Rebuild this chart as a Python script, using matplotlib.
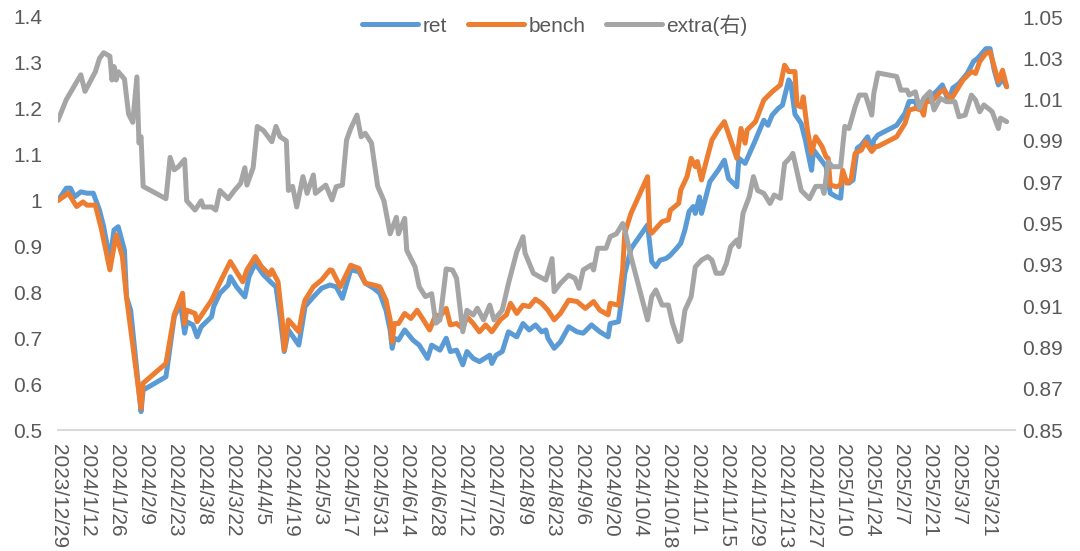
import numpy as np
import pandas as pd
import matplotlib
matplotlib.use("Agg")
import matplotlib.pyplot as plt

plt.rcParams['font.family'] = ['Liberation Sans', 'Noto Sans CJK SC', 'DejaVu Sans']

START = "2023-12-29"
END_DAY = 461  # axis end, days after START

# ---- data: day offsets (calendar days after 2023-12-29) and values ----
ret_day = [0, 4, 6, 8, 11, 14, 17, 20, 22, 25, 27, 29, 32, 33, 35, 40, 41, 52, 56, 59, 61, 62, 65, 67, 69,
           74, 75, 78, 82, 83, 86, 90, 92, 95, 99, 103, 105, 107, 109, 111, 116, 118, 119, 123, 127, 131,
           134, 137, 141, 145, 148, 152, 155, 158, 160, 161, 162, 164, 167, 171, 174, 178, 180, 184, 187,
           189, 192, 195, 197, 200, 203, 208, 209, 211, 214, 217, 221, 224, 227, 230, 233, 235, 236, 239,
           242, 246, 250, 253, 257, 261, 265, 266, 270, 272, 273, 276, 284, 286, 288, 290, 293, 295, 298,
           300, 302, 304, 306, 307, 309, 310, 314, 318, 321, 323, 327, 328, 331, 336, 338, 340, 342, 344,
           347, 349, 352, 353, 355, 358, 360, 363, 364, 367, 370, 372, 375, 377, 378, 381, 383, 385, 387,
           390, 392, 393, 395, 404, 408, 410, 413, 414, 417, 420, 423, 426, 429, 431, 434, 438, 441, 443,
           447, 449, 451, 453, 455, 457]
ret_val = [1.000, 1.027, 1.027, 1.008, 1.019, 1.016, 1.016, 0.979, 0.943, 0.870, 0.936, 0.943, 0.892, 0.790,
           0.761, 0.540, 0.587, 0.616, 0.747, 0.776, 0.711, 0.736, 0.729, 0.703, 0.725, 0.747, 0.769, 0.798,
           0.816, 0.834, 0.812, 0.790, 0.834, 0.863, 0.838, 0.820, 0.812, 0.747, 0.671, 0.718, 0.685, 0.740,
           0.769, 0.790, 0.809, 0.816, 0.812, 0.787, 0.849, 0.845, 0.820, 0.809, 0.798, 0.761, 0.718, 0.678,
           0.700, 0.696, 0.718, 0.696, 0.685, 0.656, 0.685, 0.674, 0.700, 0.671, 0.674, 0.642, 0.671, 0.656,
           0.649, 0.663, 0.645, 0.663, 0.671, 0.714, 0.703, 0.732, 0.718, 0.729, 0.714, 0.718, 0.700, 0.678,
           0.692, 0.725, 0.714, 0.711, 0.729, 0.714, 0.703, 0.732, 0.736, 0.800, 0.840, 0.895, 0.947, 0.867,
           0.856, 0.870, 0.874, 0.881, 0.896, 0.907, 0.936, 0.976, 0.987, 0.972, 1.008, 0.972, 1.041, 1.066,
           1.088, 1.048, 1.030, 1.092, 1.081, 1.132, 1.154, 1.175, 1.164, 1.186, 1.201, 1.208, 1.263, 1.255,
           1.188, 1.168, 1.132, 1.066, 1.110, 1.092, 1.074, 1.016, 1.008, 1.005, 1.052, 1.038, 1.045, 1.114,
           1.121, 1.139, 1.110, 1.132, 1.143, 1.164, 1.190, 1.216, 1.216, 1.201, 1.219, 1.226, 1.237, 1.252,
           1.216, 1.245, 1.255, 1.277, 1.303, 1.310, 1.331, 1.331, 1.284, 1.252, 1.266, 1.248]

bench_day = [0, 5, 9, 12, 14, 18, 21, 25, 28, 31, 33, 40, 41, 52, 56, 60, 61, 62, 66, 67, 74, 77, 81, 83, 86,
             89, 91, 95, 98, 102, 103, 106, 108, 109, 111, 116, 118, 119, 123, 127, 131, 132, 136, 141, 145,
             148, 152, 155, 158, 160, 161, 162, 164, 167, 170, 173, 176, 179, 182, 184, 187, 189, 192, 195,
             197, 200, 203, 206, 209, 213, 216, 218, 221, 224, 227, 230, 233, 236, 239, 242, 246, 250, 254,
             258, 261, 265, 266, 270, 272, 273, 276, 284, 285, 286, 291, 294, 295, 299, 300, 303, 305, 307,
             308, 310, 312, 315, 318, 321, 324, 327, 329, 331, 332, 336, 340, 344, 348, 350, 352, 355, 356,
             358, 359, 361, 363, 365, 368, 370, 371, 372, 375, 377, 378, 380, 382, 384, 387, 389, 392, 394,
             395, 404, 408, 410, 413, 416, 417, 418, 421, 425, 427, 430, 433, 436, 440, 442, 444, 447, 449,
             453, 455, 457]
bench_val = [1.000, 1.016, 0.987, 0.997, 0.990, 0.990, 0.936, 0.849, 0.925, 0.878, 0.790, 0.547, 0.602, 0.645,
             0.751, 0.798, 0.732, 0.761, 0.754, 0.736, 0.783, 0.812, 0.849, 0.867, 0.845, 0.823, 0.849, 0.878,
             0.856, 0.838, 0.849, 0.823, 0.740, 0.674, 0.740, 0.714, 0.765, 0.783, 0.812, 0.827, 0.849, 0.848,
             0.812, 0.859, 0.852, 0.820, 0.816, 0.812, 0.783, 0.740, 0.692, 0.732, 0.732, 0.754, 0.743, 0.761,
             0.740, 0.718, 0.751, 0.747, 0.765, 0.729, 0.732, 0.721, 0.747, 0.732, 0.714, 0.729, 0.714, 0.740,
             0.751, 0.776, 0.754, 0.772, 0.769, 0.785, 0.776, 0.761, 0.740, 0.754, 0.783, 0.780, 0.765, 0.780,
             0.761, 0.751, 0.776, 0.772, 0.849, 0.929, 0.972, 1.052, 0.936, 0.929, 0.954, 0.958, 0.979, 0.994,
             1.023, 1.052, 1.092, 1.074, 1.085, 1.045, 1.081, 1.132, 1.154, 1.172, 1.132, 1.092, 1.157, 1.125,
             1.154, 1.172, 1.219, 1.237, 1.252, 1.295, 1.281, 1.281, 1.208, 1.204, 1.226, 1.154, 1.103, 1.139,
             1.118, 1.095, 1.092, 1.034, 1.030, 1.034, 1.066, 1.038, 1.045, 1.103, 1.110, 1.128, 1.107, 1.118,
             1.118, 1.139, 1.168, 1.197, 1.201, 1.197, 1.186, 1.216, 1.216, 1.237, 1.241, 1.219, 1.241, 1.263,
             1.281, 1.277, 1.303, 1.321, 1.324, 1.259, 1.284, 1.248]

extra_day = [0, 4, 11, 13, 18, 20, 22, 25, 26, 27, 28, 29, 32, 34, 36, 38, 39, 40, 41, 52, 54, 56, 58, 61, 62,
             66, 69, 70, 74, 76, 78, 82, 85, 88, 90, 91, 94, 96, 99, 103, 105, 107, 110, 111, 113, 115, 118,
             120, 123, 124, 129, 132, 134, 137, 139, 141, 144, 146, 148, 151, 152, 154, 157, 160, 163, 164,
             167, 168, 172, 174, 177, 180, 182, 184, 187, 190, 192, 195, 197, 200, 202, 205, 208, 210, 214,
             217, 221, 224, 225, 229, 232, 235, 238, 239, 242, 246, 249, 251, 253, 257, 258, 260, 264, 266,
             269, 272, 273, 276, 284, 286, 288, 291, 294, 296, 299, 300, 302, 305, 307, 310, 313, 315, 317,
             320, 322, 324, 327, 328, 330, 333, 335, 337, 340, 343, 345, 348, 350, 353, 354, 358, 362, 365,
             368, 369, 371, 373, 377, 379, 381, 384, 386, 389, 392, 393, 395, 404, 406, 409, 410, 413, 415,
             417, 420, 422, 425, 428, 432, 434, 437, 440, 442, 444, 446, 449, 450, 453, 454, 457]
extra_val = [1.000, 1.010, 1.022, 1.014, 1.0235, 1.030, 1.0327, 1.031, 1.0195, 1.026, 1.0195, 1.0235, 1.020,
             1.003, 0.999, 1.021, 0.989, 0.992, 0.968, 0.962, 0.982, 0.976, 0.9775, 0.981, 0.961, 0.9565, 0.961,
             0.958, 0.958, 0.9565, 0.966, 0.962, 0.966, 0.9695, 0.977, 0.9686, 0.977, 0.997, 0.995, 0.9896,
             0.997, 0.992, 0.990, 0.966, 0.968, 0.958, 0.9727, 0.9646, 0.9735, 0.9646, 0.9686, 0.9614, 0.9678,
             0.9686, 0.9904, 0.996, 1.0025, 0.992, 0.9937, 0.989, 0.982, 0.968, 0.961, 0.945, 0.953, 0.945,
             0.9525, 0.937, 0.929, 0.9194, 0.9146, 0.916, 0.9017, 0.9033, 0.928, 0.9275, 0.9235, 0.8976, 0.908,
             0.9057, 0.909, 0.9033, 0.9105, 0.9033, 0.908, 0.921, 0.9363, 0.9436, 0.9356, 0.9259, 0.9242, 0.9226,
             0.933, 0.917, 0.921, 0.925, 0.9235, 0.9186, 0.9275, 0.930, 0.9275, 0.938, 0.938, 0.9436, 0.945,
             0.950, 0.947, 0.934, 0.9033, 0.9146, 0.9178, 0.9105, 0.9105, 0.9017, 0.8928, 0.8936, 0.908, 0.9146,
             0.929, 0.9323, 0.934, 0.9323, 0.9259, 0.9259, 0.9307, 0.9388, 0.942, 0.9388, 0.955, 0.963, 0.9727,
             0.966, 0.9646, 0.9597, 0.9638, 0.9622, 0.979, 0.9823, 0.984, 0.966, 0.962, 0.968, 0.968, 0.9646,
             0.980, 0.9775, 0.9775, 0.997, 0.996, 1.0066, 1.0122, 1.0122, 1.0025, 1.013, 1.0229, 1.0212, 1.0146,
             1.0146, 1.0122, 1.0138, 1.0058, 1.0106, 1.0138, 1.005, 1.0106, 1.009, 1.009, 1.0017, 1.0025, 1.0122,
             1.0098, 1.0041, 1.0074, 1.005, 1.0041, 0.996, 1.001, 0.9993]

series_names = ["ret", "bench", "extra(右)"]
series_colors = ["#5B9BD5", "#ED7D31", "#A5A5A5"]

left_ticks = [0.5, 0.6, 0.7, 0.8, 0.9, 1.0, 1.1, 1.2, 1.3, 1.4]
right_ticks = [0.85, 0.87, 0.89, 0.91, 0.93, 0.95, 0.97, 0.99, 1.01, 1.03, 1.05]
tick_step_days = 14
last_tick = "2025-03-21"

# ---- build ----
start = pd.Timestamp(START)
def to_dates(days):
    return start + pd.to_timedelta(np.asarray(days), unit="D")

text_color = "#595959"
fs = 15
lw = 3.6

fig = plt.figure(figsize=(10.8, 5.51), dpi=100)
ax = fig.add_axes([58 / 1080, 1 - 430 / 551, (1015 - 58) / 1080, (430 - 17) / 551])
ax2 = ax.twinx()

l1, = ax.plot(to_dates(ret_day), ret_val, color=series_colors[0], lw=lw,
              solid_joinstyle="round", solid_capstyle="round")
l2, = ax.plot(to_dates(bench_day), bench_val, color=series_colors[1], lw=lw,
              solid_joinstyle="round", solid_capstyle="round")
l3, = ax2.plot(to_dates(extra_day), extra_val, color=series_colors[2], lw=lw,
               solid_joinstyle="round", solid_capstyle="round")

ax.set_xlim(start, start + pd.Timedelta(days=END_DAY))
ax.set_ylim(left_ticks[0], left_ticks[-1])
ax2.set_ylim(right_ticks[0], right_ticks[-1])

tick_dates = pd.date_range(start, last_tick, freq=f"{tick_step_days}D")
ax.set_xticks(tick_dates)
ax.set_xticklabels([f"{d.year}/{d.month}/{d.day}" for d in tick_dates],
                   rotation=270, ha="center", va="top")

ax.set_yticks(left_ticks)
ax.set_yticklabels([f"{v:.1f}".rstrip("0").rstrip(".") for v in left_ticks])
ax2.set_yticks(right_ticks)
ax2.set_yticklabels([f"{v:.2f}" for v in right_ticks])

for a in (ax, ax2):
    for s in a.spines.values():
        s.set_visible(False)
ax.spines["bottom"].set_visible(True)
ax.spines["bottom"].set_color("#D9D9D9")
ax.spines["bottom"].set_linewidth(1.5)

ax.tick_params(axis="x", length=0, pad=10, labelsize=fs, labelcolor=text_color)
ax.tick_params(axis="y", length=0, pad=11.5, labelsize=fs, labelcolor=text_color)
ax2.tick_params(axis="y", length=0, pad=5, labelsize=fs, labelcolor=text_color)

fig.legend([l1, l2, l3], series_names, loc="center",
           bbox_to_anchor=(555 / 1080, 1 - 25 / 551), ncol=3, frameon=False,
           handlelength=2.7, handletextpad=0.2, columnspacing=1.0,
           fontsize=fs, labelcolor=text_color)

fig.savefig("out.png", dpi=100)
